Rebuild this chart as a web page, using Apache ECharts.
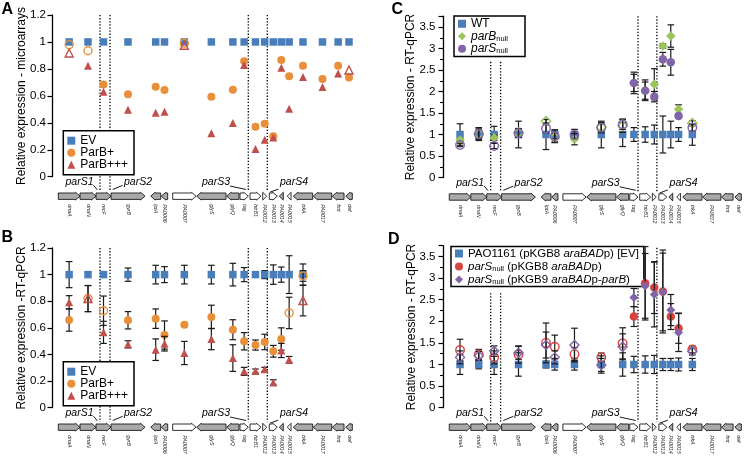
<!DOCTYPE html>
<html><head><meta charset="utf-8">
<script src="https://cdn.jsdelivr.net/npm/echarts@6/dist/echarts.min.js"></script>
<style>html,body{margin:0;padding:0;background:#fff}#c{width:745px;height:459px}</style>
</head><body><div id="c"></div>
<script>
// ================= DATA =================
// gene map (map units along the chromosome, left to right)
const genes = ['dnaA','dnaN','recF','gyrB','lptA','PA0006','PA0007','glyS','glyQ','tag','htrB1','PA0012','PA0013','PA0014','PA0015','trkA','PA0017','fmt','def'];
const geneStart = [6.3,28,44,59,98.7,109.3,120.7,144.7,174.7,188,198,210.7,217.3,227.3,235.3,241.3,261.3,280.3,293.7];
const geneEnd   = [28,44,59,93,108.7,115.7,144,174,187,196.3,209,214.7,225.3,231.3,239,260.7,279.7,292,300.3];
const geneStrand = [1,1,1,1,-1,-1,1,-1,-1,1,1,1,1,-1,-1,-1,-1,-1,-1];
const geneWhite  = [0,0,0,0,0,0,1,0,0,1,1,1,1,0,1,0,0,0,0];
const parSNames = ['parS1','parS2','parS3','parS4'];
const parSPos = [48,58,196.3,215.3];

// tick labels
const ticksAB = [0,0.2,0.4,0.6,0.8,1,1.2];
const ticksCD = [0,0.5,1,1.5,2,2.5,3,3.5];

// axis titles
const yTitles = ['Relative expression - microarrays','Relative expression -RT-qPCR','Relative expression - RT-qPCR','Relative expression - RT-qPCR'];

// Panel A - microarrays (19 genes)
const aEV      = [1,1,1,1,1,1,1,1,1,1,1,1,1,1,1,1,1,1,1];
const aParB1   = [0.98,0.935,0.685,0.611,0.668,0.643,0.99,0.594,0.646,0.856,0.37,0.393,0.30,0.866,0.745,0.824,0.725,0.824,0.737];
const aParB1ns = [1,1,0,0,0,0,1,0,0,0,0,0,0,0,0,0,0,0,0];
const aParB3   = [0.918,0.824,0.63,0.497,0.475,0.482,0.975,0.323,0.398,0.829,0.205,0.274,0.291,0.809,0.504,0.74,0.665,0.765,0.792];
const aParB3ns = [1,0,0,0,0,0,1,0,0,0,0,0,0,0,0,0,0,0,1];

// Panel B - RT-qPCR (16 genes)
const bEV       = [1,1,1,1,1,1,1,1,1,1,1,1,1,1,1,1];
const bEVerr    = [0.098,0,0,0.05,0.07,0.06,0.07,0.07,0.085,0.053,0,0.03,0.073,0.057,0.142,0.08];
const bParB1    = [0.659,0.82,0.729,0.657,0.669,0.546,0.624,0.682,0.586,0.499,0.471,0.494,0.424,0.516,0.712,0.99];
const bParB1err = [0.084,0.098,0.11,0.065,0.073,0.106,0.012,0.088,0.075,0.065,0.038,0.058,0.044,0.084,0.118,0.04];
const bParB1ns  = [0,1,1,0,0,0,0,0,0,0,0,0,0,0,1,1];
const bParB3    = [0.792,0.82,0.566,0.476,0.436,0.481,0.411,0.516,0.373,0.273,0.276,0.288,0.19,0.43,0.36,0.805];
const bParB3err = [0.05,0.098,0.083,0.027,0.081,0.055,0.087,0.08,0.1,0.03,0.015,0.015,0.02,0.053,0.025,0.115];
const bParB3ns  = [0,1,0,0,0,0,0,0,0,0,0,0,0,0,0,1];

// Panel C - RT-qPCR mutants (16 genes)
const cWT        = [1,1,1,1,1,1,1,1,1,1,1,1,1,1,1,1];
const cWTerr     = [0.25,0.1,0.19,0.31,0.35,0.1,0.12,0.31,0.28,0.16,0.18,0.22,0.43,0.31,0.16,0.25];
const cParB      = [0.872,1.01,0.926,1.04,1.31,0.93,0.89,1.17,1.2,2.2,2.03,2.17,3.06,3.29,1.59,1.26];
const cParBerr   = [0.03,0.15,0.06,0.1,0.04,0.1,0.13,0.08,0.15,0.25,0.24,0.36,0.05,0.26,0.1,0.06];
const cParBns    = [0,1,0,1,1,1,0,1,1,0,0,0,0,0,0,1];
const cParS      = [0.756,1.01,0.733,1.03,1.14,0.96,0.99,1.16,1.24,2.2,2.02,1.88,2.75,2.68,1.43,1.16];
const cParSerr   = [0.04,0.12,0.06,0.1,0.1,0.15,0.08,0.12,0.12,0.2,0.2,0.12,0.16,0.3,0.05,0.08];
const cParSns    = [1,1,1,1,1,1,1,1,1,0,0,0,0,0,0,1];

// Panel D - complementation (16 genes)
const dEV        = [1,1,1,1,1,1,1,1,1,1,1,1,1,1,1,1];
const dEVerr     = [0.23,0.1,0.23,0.27,0.08,0.13,0.13,0.2,0.27,0.19,0.2,0.21,0.14,0.14,0.15,0.14];
const dParS8     = [1.335,1.23,1.165,1.23,1.5,1.41,1.24,1.165,1.49,2.11,2.88,2.78,2.69,2.11,1.84,1.35];
const dParS8err  = [0.25,0.12,0.15,0.2,0.46,0.27,0.15,0.1,0.36,0.23,0.85,0.6,0.96,0.3,0.35,0.08];
const dParS8ns   = [1,1,1,1,1,1,1,1,1,0,0,0,0,0,0,1];
const dParS9     = [1.165,1.2,1.31,1.27,1.45,1.165,1.45,0.99,1.41,2.55,2.82,2.62,2.68,2.26,1.74,1.3];
const dParS9err  = [0.15,0.1,0.12,0.15,0.3,0.15,0.39,0.15,0.3,0.21,0.75,0.75,0.9,0.36,0.44,0.08];
const dParS9ns   = [1,1,1,1,1,1,1,1,1,0,0,0,0,0,0,1];

// ================= LAYOUT / STYLE =================
const FONT = "'Liberation Sans', Arial, sans-serif";
const C_BLUE = '#4a7ebb', C_ORANGE = '#e88f3a', C_RED = '#c0504d', C_GREEN = '#9bc45a', C_PURPLE = '#8264a8', C_RED2 = '#d8433f';
const grids = [
  {left:52, top:15, width:304, height:161.7},
  {left:52, top:248, width:304, height:159.7},
  {left:443, top:16.25, width:304, height:161.25},
  {left:443, top:245.7, width:304, height:162}
];
const titlePos = [[21.7,96],[21.2,328],[411,97],[411.3,327]];
const dotTops = [[1.2,1.2,1.2,1.2],[1.2,1.2,1.2,1.2],[2.69,2.69,3.75,3.75],[2.65,2.65,3.7,3.7]];
const parSLayout = [
  {tx:-6.5, align:'right', l:[-6.5,8.5,-2.6,13.2]},
  {tx:14, align:'left', l:[2.7,12.8,12.7,8.6]},
  {tx:-18.3, align:'right', l:[-18.3,9.3,-2.3,12.8]},
  {tx:12.7, align:'left', l:[2.7,15.5,11,12.4]}
];
const GENE_DY = 19.5, GENE_LABEL_DY = 8;

function mid(i){ return (geneStart[i] + geneEnd[i]) / 2; }

function geneRender(params, api) {
  const i = params.dataIndex;
  const s = api.coord([api.value(0), 0]), e = api.coord([api.value(1), 0]);
  const x0 = s[0], x1 = e[0], y = s[1] + GENE_DY;
  const h = 3.2, hh = 3.9, head = Math.min(4.5, x1 - x0);
  let pts;
  if (api.value(2) > 0) pts = [[x0,y-h],[x1-head,y-h],[x1-head,y-hh],[x1,y],[x1-head,y+hh],[x1-head,y+h],[x0,y+h]];
  else pts = [[x1,y-h],[x0+head,y-h],[x0+head,y-hh],[x0,y],[x0+head,y+hh],[x0+head,y+h],[x1,y+h]];
  return {type:'group', children:[
    {type:'polygon', shape:{points:pts}, style:{fill: api.value(3) ? '#ffffff' : '#a9a9a9', stroke:'#1a1a1a', lineWidth:0.9}},
    {type:'text', x:(x0+x1)/2, y:y+GENE_LABEL_DY, rotation:-Math.PI/2,
     style:{text:genes[i], align:'left', verticalAlign:'middle', fontSize:5.3, fontStyle:'italic', fontFamily:FONT, fill:'#222'}}
  ]};
}

function parSRender(params, api) {
  const i = params.dataIndex;
  const top = api.coord([api.value(0), api.value(1)]);
  const zero = api.coord([api.value(0), 0]);
  const x = top[0], y0 = zero[1], L = parSLayout[i];
  return {type:'group', children:[
    {type:'line', shape:{x1:x, y1:top[1], x2:x, y2:y0+14}, style:{stroke:'#000', lineWidth:1.3, lineDash:[1.3,1.8]}},
    {type:'line', shape:{x1:x+L.l[0], y1:y0+L.l[1], x2:x+L.l[2], y2:y0+L.l[3]}, style:{stroke:'#000', lineWidth:0.9}},
    {type:'text', x:x+L.tx, y:y0+5.8, style:{text:parSNames[i], align:L.align, verticalAlign:'middle', fontSize:10.5, fontStyle:'italic', fontFamily:FONT, fill:'#000'}}
  ]};
}

function errRender(params, api) {
  if (!api.value(3)) return null;
  const lo = api.coord([api.value(0), api.value(1)]), hi = api.coord([api.value(0), api.value(2)]);
  const w = 3.3, st = {stroke:'#1a1a1a', lineWidth:1.2};
  return {type:'group', children:[
    {type:'line', shape:{x1:lo[0], y1:lo[1], x2:hi[0], y2:hi[1]}, style:st},
    {type:'line', shape:{x1:hi[0]-w, y1:hi[1], x2:hi[0]+w, y2:hi[1]}, style:st},
    {type:'line', shape:{x1:lo[0]-w, y1:lo[1], x2:lo[0]+w, y2:lo[1]}, style:st}
  ]};
}

function pts(name, gi, vals, ns, symbol, size, color, z) {
  return {type:'scatter', name, xAxisIndex:gi, yAxisIndex:gi, symbol, symbolSize:size, z, silent:true,
    itemStyle:{color, opacity:1},
    data: vals.map((v,i) => {
      const it = {value:[mid(i), v]};
      if (ns && ns[i]) it.itemStyle = {color:'rgba(255,255,255,0)', borderColor:color, borderWidth:1.4};
      return it;
    })};
}
function errs(gi, vals, err, z) {
  return {type:'custom', xAxisIndex:gi, yAxisIndex:gi, z, silent:true, renderItem:errRender,
    encode:{x:0, y:[1,2]},
    data: vals.map((v,i) => [mid(i), v - err[i], v + err[i], err[i]])};
}
function geneMap(gi) {
  return {type:'custom', xAxisIndex:gi, yAxisIndex:gi, z:1, silent:true, clip:false, renderItem:geneRender,
    encode:{x:[0,1]}, data: genes.map((g,i) => [geneStart[i], geneEnd[i], geneStrand[i], geneWhite[i]])};
}
function parSSeries(gi) {
  return {type:'custom', xAxisIndex:gi, yAxisIndex:gi, z:1, silent:true, clip:false, renderItem:parSRender,
    encode:{x:0, y:1}, data: parSPos.map((p,i) => [p, dotTops[gi][i]])};
}

function yAxis(gi, ticks, maxExtra, margin, minor) {
  return {gridIndex:gi, type:'value', min:ticks[0], max:ticks[ticks.length-1] + maxExtra, interval:ticks[1]-ticks[0],
    axisLine:{show:true, lineStyle:{color:'#000', width:1.3}},
    axisTick:{show:true, length:4.5, lineStyle:{color:'#000', width:1.2}},
    minorTick:{show:minor, splitNumber:2, length:3, lineStyle:{color:'#000', width:1.1}},
    axisLabel:{color:'#000', fontSize:11.5, fontFamily:FONT, margin, showMaxLabel: maxExtra === 0},
    splitLine:{show:false}};
}

const legendRich = {
  i:{fontStyle:'italic', fontSize:12, fontFamily:FONT, color:'#000'},
  s:{fontSize:7.5, fontFamily:FONT, verticalAlign:'bottom', color:'#000'},
  i2:{fontStyle:'italic', fontSize:11.5, fontFamily:FONT, color:'#000'},
  s2:{fontSize:7.5, fontFamily:FONT, verticalAlign:'bottom', color:'#000'}
};
const legendText = {
  'parB_null':'{i|parB}{s|null}',
  'parS_null':'{i|parS}{s|null}',
  'PAO1161 (pKGB8 araBADp) [EV]':'PAO1161 (pKGB8 {i2|araBAD}p) [EV]',
  'parS_null (pKGB8 araBADp)':'{i2|parS}{s2|null} (pKGB8 {i2|araBAD}p)',
  'parS_null (pKGB9 araBADp-parB)':'{i2|parS}{s2|null} (pKGB9 {i2|araBAD}p-{i2|parB})'
};
function legend(left, top, names, icons, fontSize, lh, padding) {
  return {left, top, orient:'vertical', selectedMode:false, itemWidth:8, itemHeight:8, itemGap:0,
    padding, borderColor:'#000', borderWidth:1.5, backgroundColor:'#fff',
    textStyle:{fontSize, lineHeight:lh, fontFamily:FONT, color:'#000', rich:legendRich},
    formatter: n => legendText[n] || n,
    data: names.map((n,k) => ({name:n, icon:icons[k]}))};
}

const series = [
  // A
  geneMap(0), parSSeries(0),
  pts('EV', 0, aEV, null, 'rect', 7.5, C_BLUE, 3),
  pts('ParB+', 0, aParB1, aParB1ns, 'circle', 8, C_ORANGE, 5),
  pts('ParB+++', 0, aParB3, aParB3ns, 'triangle', 8, C_RED, 7),
  // B
  geneMap(1), parSSeries(1),
  errs(1, bEV, bEVerr, 2), pts('EV', 1, bEV, null, 'rect', 7.5, C_BLUE, 3),
  errs(1, bParB1, bParB1err, 4), pts('ParB+', 1, bParB1, bParB1ns, 'circle', 8, C_ORANGE, 5),
  errs(1, bParB3, bParB3err, 6), pts('ParB+++', 1, bParB3, bParB3ns, 'triangle', 8, C_RED, 7),
  // C
  geneMap(2), parSSeries(2),
  errs(2, cWT, cWTerr, 2), pts('WT', 2, cWT, null, 'rect', 7.5, C_BLUE, 3),
  errs(2, cParB, cParBerr, 4), pts('parB_null', 2, cParB, cParBns, 'diamond', 9.5, C_GREEN, 5),
  errs(2, cParS, cParSerr, 6), pts('parS_null', 2, cParS, cParSns, 'circle', 8.5, C_PURPLE, 7),
  // D
  geneMap(3), parSSeries(3),
  errs(3, dEV, dEVerr, 2), pts('PAO1161 (pKGB8 araBADp) [EV]', 3, dEV, null, 'rect', 7.5, C_BLUE, 3),
  errs(3, dParS8, dParS8err, 4), pts('parS_null (pKGB8 araBADp)', 3, dParS8, dParS8ns, 'circle', 8.5, C_RED2, 5),
  errs(3, dParS9, dParS9err, 6), pts('parS_null (pKGB9 araBADp-parB)', 3, dParS9, dParS9ns, 'diamond', 9, C_PURPLE, 7)
];

const chart = echarts.init(document.getElementById('c'), null, {renderer:'canvas'});
chart.setOption({
  animation:false,
  backgroundColor:'#fff',
  textStyle:{fontFamily:FONT},
  title:[
    {text:'A', left:1.5, top:1.5, padding:0, textStyle:{fontSize:16, fontWeight:'bold', fontFamily:FONT, color:'#000'}},
    {text:'B', left:1.5, top:230, padding:0, textStyle:{fontSize:16, fontWeight:'bold', fontFamily:FONT, color:'#000'}},
    {text:'C', left:391.5, top:1.5, padding:0, textStyle:{fontSize:16, fontWeight:'bold', fontFamily:FONT, color:'#000'}},
    {text:'D', left:388, top:232, padding:0, textStyle:{fontSize:16, fontWeight:'bold', fontFamily:FONT, color:'#000'}}
  ],
  graphic: yTitles.map((t,i) => ({type:'text', x:titlePos[i][0], y:titlePos[i][1], rotation:Math.PI/2, silent:true,
    style:{text:t, align:'center', verticalAlign:'middle', fontSize:12, fontFamily:FONT, fill:'#000'}})),
  grid: grids,
  xAxis: grids.map((g,i) => ({gridIndex:i, type:'value', min:0, max:304, show:false})),
  yAxis: [
    yAxis(0, ticksAB, 0, 6, false),
    yAxis(1, ticksAB, 0, 6, false),
    yAxis(2, ticksCD, 0.25, 7.5, true),
    yAxis(3, ticksCD, 0.25, 7.5, true)
  ],
  legend: [
    legend(63.3, 130.7, ['EV','ParB+','ParB+++'], ['rect','circle','triangle'], 12, 12, [4,6,4,4]),
    legend(63.3, 361.7, ['EV','ParB+','ParB+++'], ['rect','circle','triangle'], 12, 12, [4,6,4,4]),
    legend(454, 16, ['WT','parB_null','parS_null'], ['rect','diamond','circle'], 12, 12.5, [1.5,17,1.5,4]),
    legend(451, 246.5, ['PAO1161 (pKGB8 araBADp) [EV]','parS_null (pKGB8 araBADp)','parS_null (pKGB9 araBADp-parB)'], ['rect','circle','diamond'], 11.5, 13, [0.5,5,0.5,4])
  ],
  series
});
</script></body></html>
